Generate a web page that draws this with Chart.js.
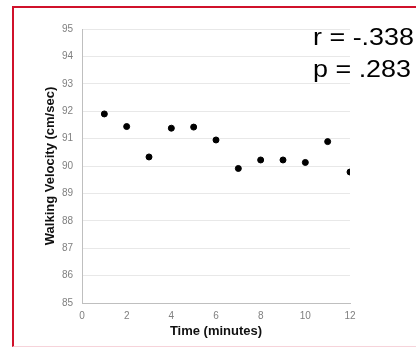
<!DOCTYPE html>
<html>
<head>
<meta charset="utf-8">
<script src="https://cdn.jsdelivr.net/npm/chart.js@4"></script>
<style>
  body { margin: 0; background: #fff; }
  #wrap { position: relative; width: 416px; height: 347px; overflow: hidden; }
  #frame {
    position: absolute; left: 12px; top: 6px; width: 420px; height: 338px;
    border-left: 2px solid #d0112b; border-top: 2px solid #d0112b;
    border-bottom: 1px solid #f6d3da; pointer-events: none;
  }
  .stat {
    position: absolute; left: 313px; font-family: "Liberation Sans", Arial, sans-serif;
    font-size: 23px; color: #000; white-space: pre; line-height: 1;
    transform: scaleX(1.17); transform-origin: left top;
  }
</style>
</head>
<body>
<div id="wrap">
  <canvas id="velChart" width="416" height="347"></canvas>
  <div id="frame"></div>
  <div class="stat" style="top:26px">r = -.338</div>
  <div class="stat" style="top:58px">p = .283</div>
</div>
<script>
// ------------------------------
// Data
// ------------------------------
const minutes = [1, 2, 3, 4, 5, 6, 7, 8, 9, 10, 11, 12];
const velocity = [91.9, 91.44, 90.33, 91.38, 91.42, 90.95, 89.91, 90.22, 90.22, 90.13, 90.89, 89.78];

const xTitle = "Time (minutes)";
const yTitle = "Walking Velocity (cm/sec)";

const points = minutes.map((m, i) => ({ x: m, y: velocity[i] }));

const font = "'Liberation Sans', Arial, sans-serif";

new Chart(document.getElementById("velChart"), {
    type: "scatter",
    data: {
        datasets: [
            {
                data: points,
                backgroundColor: "#000",
                borderColor: "#000",
                pointRadius: 3,
                pointHoverRadius: 3
            }
        ]
    },
    options: {
        responsive: false,
        animation: false,
        layout: {
            padding: { left: 0, right: 66, top: 29, bottom: 0 }
        },
        plugins: {
            legend: { display: false },
            tooltip: { enabled: false }
        },
        scales: {
            x: {
                type: "linear",
                min: 0,
                max: 12,
                ticks: {
                    stepSize: 2,
                    padding: 7,
                    color: "#7f7f7f",
                    font: { family: font, size: 10 }
                },
                grid: { display: false, drawTicks: false },
                border: { display: true, color: "#bfbfbf", width: 1 },
                title: {
                    display: true,
                    text: xTitle,
                    color: "#111",
                    font: { family: font, size: 13, weight: "bold" },
                    padding: { top: 0, bottom: 8 }
                },
                afterFit: (scale) => { scale.height = 44; }
            },
            y: {
                type: "linear",
                min: 85,
                max: 95,
                ticks: {
                    stepSize: 1,
                    padding: 9,
                    color: "#7f7f7f",
                    font: { family: font, size: 10 }
                },
                grid: { color: "#e8e8e8", drawTicks: false },
                border: { display: true, color: "#bfbfbf", width: 1 },
                title: {
                    display: true,
                    text: yTitle,
                    color: "#111",
                    font: { family: font, size: 13, weight: "bold" },
                    padding: { top: 43, bottom: 0 }
                },
                afterFit: (scale) => { scale.width = 82; }
            }
        }
    }
});
</script>
</body>
</html>
